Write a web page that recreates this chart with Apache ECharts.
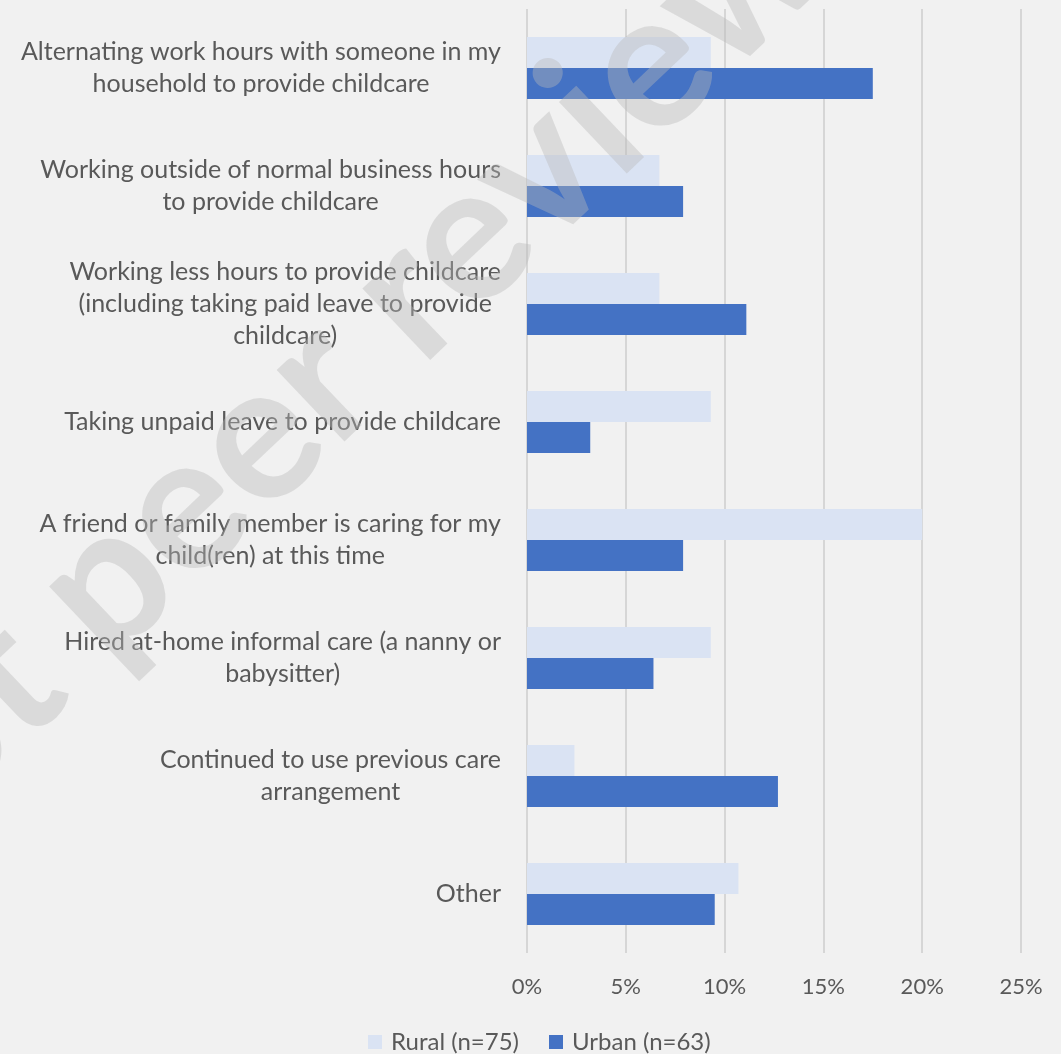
<!DOCTYPE html>
<html>
<head>
<meta charset="utf-8">
<script src="https://cdn.jsdelivr.net/npm/echarts@6/dist/echarts.min.js"></script>
<style>
  html, body { margin: 0; padding: 0; background: #f1f1f1; }
  #chart { width: 1061px; height: 1054px; }
</style>
</head>
<body>
<div id="chart"></div>
<script>
// Childcare arrangements by area (share of respondents, %)
const categories = [
  'Alternating work hours with someone in my\nhousehold to provide childcare',
  'Working outside of normal business hours\nto provide childcare',
  'Working less hours to provide childcare\n(including taking paid leave to provide\nchildcare)',
  'Taking unpaid leave to provide childcare',
  'A friend or family member is caring for my\nchild(ren) at this time',
  'Hired at-home informal care (a nanny or\nbabysitter)',
  'Continued to use previous care\narrangement',
  'Other'
];
const seriesNames = ['Rural (n=75)', 'Urban (n=63)'];
const rural = [9.3, 6.7, 6.7, 9.3, 20.0, 9.3, 2.4, 10.7];
const urban = [17.5, 7.9, 11.1, 3.2, 7.9, 6.4, 12.7, 9.5];
const xTicks = { min: 0, max: 25, step: 5 };

const FONT = 'Lato, "Open Sans", sans-serif';
const TEXT = '#595959';

const chart = echarts.init(document.getElementById('chart'), null, { renderer: 'canvas' });

chart.setOption({
  backgroundColor: '#f1f1f1',
  animation: false,
  textStyle: { fontFamily: FONT, color: TEXT },
  grid: { left: 527, right: 40, top: 9, bottom: 101, containLabel: false },
  legend: {
    data: seriesNames,
    left: 363,
    top: 1025,
    icon: 'rect',
    itemWidth: 14,
    itemHeight: 14,
    itemGap: 30,
    textStyle: { fontFamily: FONT, fontSize: 24, color: TEXT, padding: [0, 0, 0, 4] }
  },
  xAxis: {
    type: 'value',
    min: xTicks.min,
    max: xTicks.max,
    interval: xTicks.step,
    axisLine: { show: false },
    axisTick: { show: false },
    splitLine: { show: true, lineStyle: { color: '#d6d6d6', width: 2 } },
    axisLabel: {
      formatter: '{value}%',
      fontFamily: FONT,
      fontSize: 22,
      color: TEXT,
      margin: 23
    }
  },
  yAxis: {
    type: 'category',
    data: categories,
    inverse: true,
    axisLine: { show: false },
    axisTick: { show: false },
    splitLine: { show: false },
    axisLabel: {
      margin: 26,
      interval: 0,
      formatter: function (v) {
        return v.split('\n').map(function (s) { return '{c|' + s + '}'; }).join('\n');
      },
      rich: {
        c: { align: 'center', fontFamily: FONT, fontSize: 25, lineHeight: 32, color: TEXT }
      }
    }
  },
  series: [
    {
      name: seriesNames[0],
      type: 'bar',
      data: rural,
      barWidth: 31,
      barGap: '0%',
      itemStyle: { color: '#dae3f3' }
    },
    {
      name: seriesNames[1],
      type: 'bar',
      data: urban,
      barWidth: 31,
      barGap: '0%',
      itemStyle: { color: '#4472c4' }
    }
  ],
  graphic: [
    {
      type: 'text',
      x: 372,
      y: 330,
      rotation: 0.76,
      z: 100,
      silent: true,
      style: {
        text: 'Not peer reviewed',
        fontFamily: FONT,
        fontWeight: 'bold',
        fontSize: 192,
        fill: 'rgba(184,184,184,0.4)',
        align: 'center',
        verticalAlign: 'middle'
      }
    }
  ]
});
</script>
</body>
</html>
